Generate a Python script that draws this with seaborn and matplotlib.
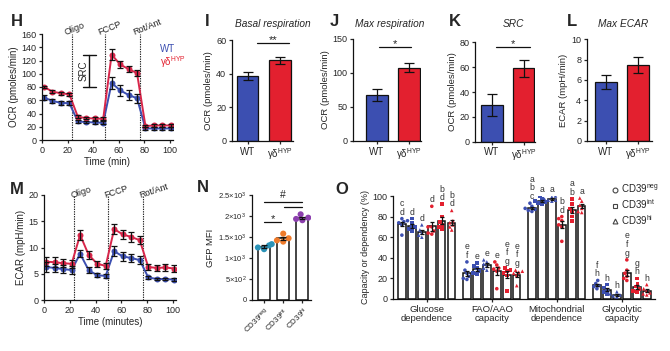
import numpy as np
import pandas as pd
import matplotlib
matplotlib.use('Agg')
import matplotlib.pyplot as plt
import seaborn as sns
from matplotlib.lines import Line2D

sns.set_style('ticks')
plt.rcParams['font.family'] = ['Liberation Sans', 'DejaVu Sans']
plt.rcParams['mathtext.fontset'] = 'custom'
plt.rcParams['mathtext.rm'] = 'Liberation Sans'
plt.rcParams['mathtext.it'] = 'Liberation Sans:italic'
plt.rcParams['mathtext.bf'] = 'Liberation Sans:bold'
plt.rcParams['axes.linewidth'] = 0.9
plt.rcParams['axes.edgecolor'] = '#111111'
plt.rcParams['xtick.major.width'] = 0.9
plt.rcParams['ytick.major.width'] = 0.9
plt.rcParams['xtick.major.size'] = 2.5
plt.rcParams['ytick.major.size'] = 2.5
plt.rcParams['xtick.major.pad'] = 1.5
plt.rcParams['ytick.major.pad'] = 1.5
plt.rcParams['xtick.labelsize'] = 6.5
plt.rcParams['ytick.labelsize'] = 6.5
plt.rcParams['axes.labelsize'] = 7
plt.rcParams['axes.labelpad'] = 2

blue = '#3c4fb1'
red = '#e3202f'
line_red = '#d8264a'
ink = '#111111'

# --- H / M: seahorse traces ---
times = [1.6, 8.2, 14.8, 21.4, 28.0, 34.6, 41.2, 47.8,
         54.4, 61.0, 67.6, 74.2, 80.8, 87.4, 94.0, 100.6]
injections = [23.5, 49.5, 76.8]
injection_names = ['Oligo', 'FCCP', 'Rot/Ant']

ocr_wt = [64, 59, 56, 55.5, 28, 27, 26.5, 26, 86, 75, 68, 63, 17.5, 17.5, 17.5, 17.5]
ocr_wt_err = [4, 3, 3, 3, 2, 2, 2, 2, 9, 8, 8, 7, 2, 2, 2, 2]
ocr_hyp = [80, 73, 70.5, 69, 35, 33, 32.5, 32, 129, 114, 107, 101, 21, 22, 22, 22]
ocr_hyp_err = [2, 2, 2, 2, 2, 2, 2, 2, 8, 6, 5, 5, 2, 2, 2, 2]

ecar_wt = [6.3, 6.1, 5.9, 5.7, 8.8, 5.7, 4.7, 4.6, 9.3, 8.3, 8.0, 7.6, 4.3, 4.0, 4.0, 3.9]
ecar_wt_err = [0.9, 0.8, 0.7, 0.8, 0.7, 0.5, 0.4, 0.4, 1.0, 0.9, 0.8, 0.8, 0.3, 0.2, 0.2, 0.2]
ecar_hyp = [7.3, 7.2, 7.0, 6.9, 12.4, 8.6, 6.9, 6.5, 13.5, 12.5, 12.0, 11.4, 6.3, 6.1, 6.2, 6.0]
ecar_hyp_err = [0.9, 0.9, 0.8, 0.8, 1.0, 0.7, 0.6, 0.6, 1.0, 0.9, 0.9, 0.8, 0.6, 0.6, 0.6, 0.6]

# --- I-L: WT vs gd-HYP bars ---
genotypes = ['WT', 'γδ$^{\\mathrm{HYP}}$']
basal = [38.5, 48.0]
basal_err = [2.5, 2.0]
max_resp = [68, 108]
max_resp_err = [9, 7]
src = [29.5, 59]
src_err = [8.5, 7]
max_ecar = [5.8, 7.5]
max_ecar_err = [0.7, 0.8]

# --- N: GFP MFI ---
cd39_labels = ['CD39$^{\\mathrm{neg}}$', 'CD39$^{\\mathrm{int}}$', 'CD39$^{\\mathrm{hi}}$']
gfp_neg = [1210, 1250, 1300, 1330]
gfp_int = [1390, 1420, 1470, 1580]
gfp_hi = [1900, 1930, 1960, 2040]
n_yticks = [0, 500, 1000, 1500, 2000, 2500]
n_yticklabels = ['0', '5×10$^{2}$', '1×10$^{3}$', '1.5×10$^{3}$', '2×10$^{3}$', '2.5×10$^{3}$']

# --- O: capacity / dependence ---
measures = ['Glucose\ndependence', 'FAO/AAO\ncapacity', 'Mitochondrial\ndependence', 'Glycolytic\ncapacity']
levels = ['neg', 'int', 'hi']
glucose_wt = [[78, 76, 74, 72, 62, 75], [78, 74, 70, 68, 66, 70], [72, 67, 64, 62, 60]]
glucose_hyp = [[90, 70, 66, 64, 63, 70], [92, 80, 75, 72, 70, 68], [86, 76, 74, 72, 70, 67]]
fao_wt = [[36, 28, 25, 22, 20, 19], [35, 32, 30, 27, 25, 24], [38, 36, 34, 32, 30, 28]]
fao_hyp = [[36, 33, 30, 29, 27, 10], [30, 28, 27, 25, 23, 8], [28, 27, 26, 25, 23, 13]]
mito_wt = [[93, 90, 88, 86, 85, 87], [100, 97, 95, 94, 93, 92], [100, 99, 97, 96, 95, 96]]
mito_hyp = [[80, 78, 76, 72, 70, 56], [97, 92, 88, 85, 80, 76], [98, 95, 91, 88, 85, 84]]
glyco_wt = [[18, 15, 13, 12, 10], [14, 11, 9, 7, 5], [7, 5, 4, 3, 2]]
glyco_hyp = [[38, 28, 25, 22, 20, 18], [20, 15, 12, 10, 8, 7], [14, 10, 8, 6, 5, 4]]
glucose_letters = ['c\nd', 'd', 'd', 'd', 'b\nd', 'b\nd']
fao_letters = ['e\nf', 'e', 'e', 'e', 'e\nf\ng', 'e\nf\ng']
mito_letters = ['a\nb\nc', 'a', 'a', 'b\nd', 'a\nb', 'a']
glyco_letters = ['f\nh', 'h', 'h', 'e\nf\ng', 'g\nh', 'h']

W, H = 670, 351
fig = plt.figure(figsize=(6.7, 3.51), dpi=100)


def add_ax(left, right, top, bottom):
    ax = fig.add_axes([left / W, 1 - bottom / H, (right - left) / W, (bottom - top) / H])
    sns.despine(ax=ax)
    return ax


def fig_text(x, y, s, **kw):
    fig.text(x / W, 1 - y / H, s, **kw)


def trace(ax, wt, wt_err, hyp, hyp_err, label_y, label_dx, rot):
    df = pd.DataFrame({'time': times + times, 'value': wt + hyp,
                       'group': ['WT'] * len(times) + ['HYP'] * len(times)})
    sns.lineplot(data=df, x='time', y='value', hue='group', palette=[blue, line_red],
                 marker='o', markersize=4.3, markeredgewidth=0, linewidth=1.4,
                 legend=False, ax=ax)
    for vals, errs in ((wt, wt_err), (hyp, hyp_err)):
        ax.errorbar(times, vals, yerr=errs, fmt='none', ecolor=ink,
                    elinewidth=0.9, capsize=2.2, capthick=0.9, zorder=3)
    for t, name in zip(injections, injection_names):
        ax.axvline(t, color='#222222', ls=(0, (1.2, 1.0)), lw=0.8, zorder=0)
        ax.text(t + label_dx, label_y, name, fontsize=6.5, rotation=rot,
                rotation_mode='anchor', ha='left', va='bottom', clip_on=False)
    ax.set_xlim(0, 102)
    ax.set_xticks([0, 20, 40, 60, 80, 100])


def bar_pair(ax, means, errs, xlim, ylim, yticks, ylabel):
    df = pd.DataFrame({'genotype': genotypes, 'value': means})
    sns.barplot(data=df, x='genotype', y='value', hue='genotype', palette=[blue, red],
                width=0.68, edgecolor=ink, linewidth=0.9, saturation=1,
                legend=False, ax=ax)
    ax.errorbar(range(len(means)), means, yerr=errs, fmt='none', ecolor=ink,
                elinewidth=0.9, capsize=3.5, capthick=0.9, zorder=3)
    ax.set_xlim(*xlim)
    ax.set_ylim(*ylim)
    ax.set_yticks(yticks)
    ax.set_xlabel('')
    ax.set_ylabel(ylabel, fontsize=6.8)
    ax.tick_params(axis='x', labelsize=7)


def sig(ax, x0, x1, y, mark):
    ax.plot([x0, x1], [y, y], color=ink, lw=0.9, clip_on=False)
    ax.text((x0 + x1) / 2, y, mark, ha='center', va='baseline', fontsize=8, clip_on=False)


# ---------------- H ----------------
axH = add_ax(42, 172.6, 34, 140)
trace(axH, ocr_wt, ocr_wt_err, ocr_hyp, ocr_hyp_err, 156, -4, 22)
axH.set_ylim(0, 160)
axH.set_yticks(range(0, 161, 20))
axH.set_xlabel('Time (min)')
axH.set_ylabel('OCR (pmoles/min)')
# SRC bracket = gd-HYP max FCCP minus basal
top, bot = ocr_hyp[8], ocr_hyp[0]
axH.plot([37, 37], [bot, top], color=ink, lw=1)
axH.plot([32, 42.5], [top, top], color=ink, lw=1)
axH.plot([32, 42.5], [bot, bot], color=ink, lw=1)
axH.text(32.5, (top + bot) / 2, 'SRC', rotation=90, ha='center', va='center', fontsize=7)
axH.text(92, 138, 'WT', color=blue, fontsize=7, ha='left', va='center')
axH.text(92, 118, 'γδ$^{\\mathrm{HYP}}$', color=red, fontsize=7, ha='left', va='center')
fig_text(17, 21, 'H', fontsize=12, fontweight='bold', ha='center', va='center')

# ---------------- I-L ----------------
axI = add_ax(231.7, 293.3, 40, 141)
bar_pair(axI, basal, basal_err, (-0.49, 1.42), (0, 60), [0, 20, 40, 60], 'OCR (pmoles/min)')
sig(axI, 0.28, 1.3, 58, '**')
fig_text(207, 22, 'I', fontsize=12, fontweight='bold', ha='center', va='center')
fig_text(273, 24, 'Basal respiration', fontsize=7.3, style='italic', ha='center', va='center')

axJ = add_ax(353.3, 421, 39, 141)
bar_pair(axJ, max_resp, max_resp_err, (-0.73, 1.38), (0, 150), [0, 50, 100, 150], 'OCR (pmoles/min)')
sig(axJ, 0.07, 1.06, 138.7, '*')
fig_text(334, 22, 'J', fontsize=12, fontweight='bold', ha='center', va='center')
fig_text(390, 24, 'Max respiration', fontsize=7.3, style='italic', ha='center', va='center')

axK = add_ax(475, 535, 42.3, 141.7)
bar_pair(axK, src, src_err, (-0.525, 1.36), (0, 80), [0, 20, 40, 60, 80], 'OCR (pmoles/min)')
sig(axK, 0.15, 1.2, 76.5, '*')
fig_text(455, 22, 'K', fontsize=12, fontweight='bold', ha='center', va='center')
fig_text(513, 24, 'SRC', fontsize=7.3, style='italic', ha='center', va='center')

axL = add_ax(586.7, 651.7, 39.3, 141)
bar_pair(axL, max_ecar, max_ecar_err, (-0.6, 1.42), (0, 10), [0, 2, 4, 6, 8, 10], 'ECAR (mpH/min)')
fig_text(572, 22, 'L', fontsize=12, fontweight='bold', ha='center', va='center')
fig_text(623, 24, 'Max ECAR', fontsize=7.3, style='italic', ha='center', va='center')

# ---------------- M ----------------
axM = add_ax(44, 175.6, 195, 300)
trace(axM, ecar_wt, ecar_wt_err, ecar_hyp, ecar_hyp_err, 19, -1.5, 18)
axM.set_ylim(0, 20)
axM.set_yticks([0, 5, 10, 15, 20])
axM.set_xlabel('Time (minutes)')
axM.set_ylabel('ECAR (mpH/min)')
fig_text(17, 189, 'M', fontsize=12, fontweight='bold', ha='center', va='center')

# ---------------- N ----------------
axN = add_ax(252, 311, 195, 300)
gfp = [gfp_neg, gfp_int, gfp_hi]
ndf = pd.DataFrame({'level': np.repeat(cd39_labels, [len(v) for v in gfp]),
                    'mfi': np.concatenate(gfp)})
sns.barplot(data=ndf, x='level', y='mfi', order=cd39_labels, errorbar=None, color='white',
            edgecolor=ink, linewidth=1.1, width=0.63, ax=axN)
sns.swarmplot(data=ndf, x='level', y='mfi', order=cd39_labels, hue='level',
              palette=['#2b93b8', '#ef7b2b', '#8c3fae'], size=4.4, legend=False, ax=axN)
n_means = [np.mean(v) for v in gfp]
n_sems = [np.std(v, ddof=1) / np.sqrt(len(v)) for v in gfp]
axN.errorbar(range(3), n_means, yerr=n_sems, fmt='none', ecolor=ink, elinewidth=0.9,
             capsize=2.5, capthick=0.9, zorder=4)
axN.set_xlim(-0.63, 2.45)
axN.set_ylim(0, 2500)
axN.set_yticks(n_yticks)
axN.set_yticklabels(n_yticklabels, fontsize=5.5)
axN.set_xticks(range(3))
axN.set_xticklabels(cd39_labels, rotation=45, ha='right', rotation_mode='anchor', fontsize=5.8)
axN.set_xlabel('')
axN.set_ylabel('GFP MFI', fontsize=6.8)
sig(axN, 0.0, 0.9, 1865, '*')
axN.plot([1.05, 2.0], [2214, 2214], color=ink, lw=0.9, clip_on=False)
axN.plot([0.0, 2.0], [2340, 2340], color=ink, lw=0.9, clip_on=False)
axN.text(1.0, 2390, '#', ha='center', va='bottom', fontsize=7.5, clip_on=False)
fig_text(203, 188, 'N', fontsize=12, fontweight='bold', ha='center', va='center')

# ---------------- O ----------------
axO = add_ax(393, 655, 196, 299)
hue_order = [f'{g} {l}' for g in ('WT', 'HYP') for l in levels]
sets = [glucose_wt + glucose_hyp, fao_wt + fao_hyp, mito_wt + mito_hyp, glyco_wt + glyco_hyp]
rows = []
for measure, group_sets in zip(measures, sets):
    for cond, vals in zip(hue_order, group_sets):
        for v in vals:
            rows.append((measure, cond, cond.split()[1], v))
odf = pd.DataFrame(rows, columns=['measure', 'cond', 'level', 'value'])

sns.barplot(data=odf, x='measure', y='value', order=measures, hue='cond', hue_order=hue_order,
            palette=dict(zip(hue_order, ['white'] * 6)), width=0.92, gap=0.25,
            errorbar=None, edgecolor=ink, linewidth=1.1, legend=False, ax=axO)
bars = sorted(axO.patches, key=lambda p: p.get_x())
bar_x = [p.get_x() + p.get_width() / 2 for p in bars]
keys = [(m, c) for m in measures for c in hue_order]
odf['xpos'] = [bar_x[keys.index((m, c))] for m, c in zip(odf['measure'], odf['cond'])]

pal6 = dict(zip(hue_order, [blue] * 3 + [red] * 3))
for lvl, mk in zip(levels, ['o', 's', '^']):
    sub = odf[odf['level'] == lvl]
    sns.swarmplot(data=sub, x='xpos', y='value', hue='cond', palette=pal6, native_scale=True,
                  marker=mk, size=2.6, legend=False, warn_thresh=1, ax=axO)

o_means = [p.get_height() for p in bars]
o_sems = []
o_tops = []
for m, c in keys:
    v = odf.loc[(odf['measure'] == m) & (odf['cond'] == c), 'value']
    o_sems.append(v.std() / np.sqrt(len(v)))
    o_tops.append(v.max())
axO.errorbar(bar_x, o_means, yerr=o_sems, fmt='none', ecolor=ink, elinewidth=0.9,
             capsize=1.6, capthick=0.9, zorder=5)
letters = glucose_letters + fao_letters + mito_letters + glyco_letters
for x, mu, se, top, lab in zip(bar_x, o_means, o_sems, o_tops, letters):
    axO.text(x, max(top, mu + se) + 2, lab, ha='center', va='bottom', fontsize=6.2,
             linespacing=0.95, color='#333333', clip_on=False)

axO.set_xlim(-0.52, 3.51)
axO.set_ylim(0, 100)
axO.set_yticks(range(0, 101, 20))
axO.set_xticks(range(4))
axO.set_xticklabels(measures, fontsize=6.8, linespacing=1.0)
axO.set_xlabel('')
axO.set_ylabel('Capacity or dependency (%)', fontsize=6.5)
handles = [Line2D([], [], ls='', marker=mk, mfc='white', mec='#444444', mew=0.8, ms=3.5)
           for mk in ['o', 's', '^']]
fig.legend(handles, cd39_labels, loc='upper left', bbox_to_anchor=(610 / W, 1 - 183 / H),
           frameon=False, fontsize=7, handletextpad=0.1, labelspacing=0.2,
           handlelength=1.0, borderpad=0, borderaxespad=0)
fig_text(342, 189, 'O', fontsize=12, fontweight='bold', ha='center', va='center')

fig.savefig('out.png', dpi=100)
